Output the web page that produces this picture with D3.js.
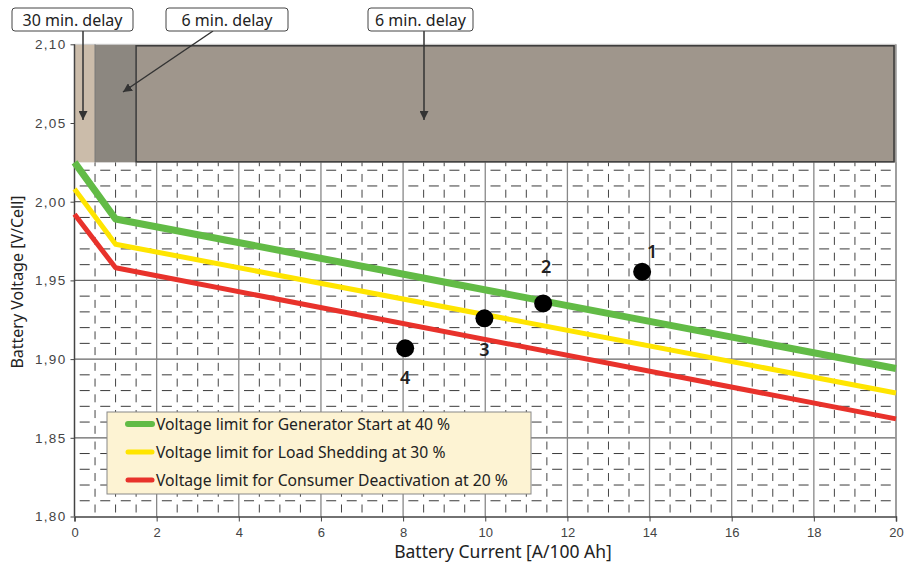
<!DOCTYPE html>
<html>
<head>
<meta charset="utf-8">
<script src="https://cdn.jsdelivr.net/npm/d3@7"></script>
<style>
  body { margin: 0; background: #fff; }
  text { font-family: "Noto Sans", sans-serif; fill: #222; }
  .tick text { font-family: "Liberation Sans", Arial, sans-serif; fill: #444; }
</style>
</head>
<body>
<div id="chart"></div>
<script>
// limit curves: battery current vs voltage per cell
const currents = [0, 1, 20];
const genStart = [2.025, 1.989, 1.894];
const loadShed = [2.008, 1.973, 1.8785];
const consumerOff = [1.992, 1.958, 1.862];

const seriesNames = [
  'Voltage limit for Generator Start at 40 %',
  'Voltage limit for Load Shedding at 30 %',
  'Voltage limit for Consumer Deactivation at 20 %'
];

// measured operating points
const pointIds = ['1', '2', '3', '4'];
const pointX = [13.82, 11.41, 9.98, 8.05];
const pointY = [1.9555, 1.9354, 1.9259, 1.9069];

// delay zones along the current axis
const zoneStart = [0, 0.5, 1.5];
const zoneEnd = [0.5, 1.5, 20];
const zoneLabels = ['30 min. delay', '6 min. delay', '6 min. delay'];

const xTicks = [0, 2, 4, 6, 8, 10, 12, 14, 16, 18, 20];
const yTicks = [1.80, 1.85, 1.90, 1.95, 2.00, 2.05, 2.10];

const width = 908, height = 564;
const svg = d3.select('#chart')
              .append('svg')
              .attr('width', width)
              .attr('height', height);

const x = d3.scaleLinear().domain([0, 20]).range([74.5, 896]);
const y = d3.scaleLinear().domain([1.80, 2.10]).range([516.5, 44.3]);
const comma = v => d3.format('.2f')(v).replace('.', ',');

// dashed minor grid (only below the delay zones)
const gridTop = y(2.025);
const g = svg.append('g');
g.selectAll('.hdash')
 .data(d3.range(1.81, 2.021, 0.01).filter(v => Math.abs(v * 100 % 5) > 0.01 && Math.abs(v * 100 % 5 - 5) > 0.01))
 .enter().append('line')
 .attr('x1', x(0)).attr('x2', x(20))
 .attr('y1', d => y(d)).attr('y2', d => y(d))
 .attr('stroke', '#3a3a3a').attr('stroke-width', 1)
 .attr('stroke-dasharray', '10,10.54').attr('stroke-dashoffset', -5.2);
g.selectAll('.vdash')
 .data(d3.range(0.5, 20, 0.5).filter(v => v % 2 !== 0))
 .enter().append('line')
 .attr('x1', d => x(d)).attr('x2', d => x(d))
 .attr('y1', y(1.80)).attr('y2', gridTop)
 .attr('stroke', '#444').attr('stroke-width', 1)
 .attr('stroke-dasharray', '8,7.74').attr('stroke-dashoffset', -4);

// solid major grid
g.selectAll('.hmaj')
 .data([1.85, 1.90, 1.95, 2.00])
 .enter().append('line')
 .attr('x1', x(0)).attr('x2', x(20))
 .attr('y1', d => y(d)).attr('y2', d => y(d))
 .attr('stroke', '#666').attr('stroke-width', 1.3);
g.selectAll('.vmaj')
 .data(xTicks.slice(1))
 .enter().append('line')
 .attr('x1', d => x(d)).attr('x2', d => x(d))
 .attr('y1', y(1.80)).attr('y2', gridTop)
 .attr('stroke', '#888').attr('stroke-width', 1.3);

// delay zones
const zoneFill = ['#cbbcaa', '#8c8780', '#9f968c'];
svg.selectAll('.zone')
   .data(zoneStart)
   .enter().append('rect')
   .attr('x', (d, i) => x(d))
   .attr('width', (d, i) => x(zoneEnd[i]) - x(d))
   .attr('y', y(2.10))
   .attr('height', gridTop - y(2.10))
   .attr('fill', (d, i) => zoneFill[i]);
svg.append('rect')
   .attr('x', x(1.5)).attr('y', y(2.10) + 1.5)
   .attr('width', x(20) - x(1.5) - 2).attr('height', gridTop - y(2.10) - 2)
   .attr('fill', 'none').attr('stroke', '#3a3a3a').attr('stroke-width', 1.5);
svg.append('line')
   .attr('x1', x(0)).attr('x2', x(20))
   .attr('y1', y(2.10)).attr('y2', y(2.10))
   .attr('stroke', '#ccc').attr('stroke-width', 1);
svg.append('line')
   .attr('x1', x(0.5)).attr('x2', x(0.5))
   .attr('y1', y(2.10)).attr('y2', gridTop)
   .attr('stroke', '#777').attr('stroke-width', 1);

// right border
svg.append('line')
   .attr('x1', x(20)).attr('x2', x(20))
   .attr('y1', y(2.10)).attr('y2', y(1.80))
   .attr('stroke', '#999').attr('stroke-width', 1.5);

// axes
const xAxis = d3.axisBottom(x).tickValues(xTicks).tickSize(5).tickPadding(6).tickFormat(d3.format('d'));
const yAxis = d3.axisLeft(y).tickValues(yTicks).tickSize(4).tickPadding(4).tickFormat(comma);
const xg = svg.append('g').attr('transform', `translate(0, ${y(1.80)})`).call(xAxis).attr('font-size', 13);
const yg = svg.append('g').attr('transform', `translate(${x(0)}, 0)`).call(yAxis).attr('font-size', 13.5);
[xg, yg].forEach(a => {
  a.select('.domain').attr('stroke', '#444').attr('stroke-width', 1.5);
  a.selectAll('.tick line').attr('stroke', '#444');
});
yg.selectAll('.tick text').attr('letter-spacing', 1.3);
yg.select('.domain').attr('d', `M0,${y(1.80)}V${y(2.10)}`);

svg.append('text')
   .attr('x', 503).attr('y', 558)
   .attr('text-anchor', 'middle')
   .style('font-size', '17.5px')
   .text('Battery Current [A/100 Ah]');
svg.append('text')
   .attr('transform', `translate(23, 282) rotate(-90)`)
   .attr('text-anchor', 'middle')
   .style('font-size', '16px')
   .text('Battery Voltage [V/Cell]');

// limit lines
const colors = ['#62bb46', '#ffe500', '#e8322b'];
const widths = [7, 5, 5];
const line = d3.line().x(d => x(d[0])).y(d => y(d[1]));
[genStart, loadShed, consumerOff].forEach((vals, i) => {
  svg.append('path')
     .datum(currents.map((c, j) => [c, vals[j]]))
     .attr('d', line)
     .attr('fill', 'none')
     .attr('stroke', colors[i])
     .attr('stroke-width', widths[i])
     .attr('stroke-linejoin', 'round');
});

// operating points
const labelDx = [10, 3, 0, 0];
const labelDy = [-21, -37, 31, 29];
svg.selectAll('.pt')
   .data(pointIds)
   .enter().append('circle')
   .attr('cx', (d, i) => x(pointX[i]))
   .attr('cy', (d, i) => y(pointY[i]))
   .attr('r', 9)
   .attr('fill', '#000');
svg.selectAll('.ptlabel')
   .data(pointIds)
   .enter().append('text')
   .attr('x', (d, i) => x(pointX[i]) + labelDx[i])
   .attr('y', (d, i) => y(pointY[i]) + labelDy[i])
   .attr('text-anchor', 'middle')
   .attr('dominant-baseline', 'central')
   .style('font-size', '18px')
   .style('font-weight', '600')
   .text(d => d);

// legend
const leg = svg.append('g');
leg.append('rect')
   .attr('x', 107).attr('y', 412).attr('width', 424).attr('height', 82)
   .attr('fill', '#fdf3d3').attr('stroke', '#888').attr('stroke-width', 1);
seriesNames.forEach((name, i) => {
  const ly = 424 + i * 28;
  leg.append('line')
     .attr('x1', 128).attr('x2', 152).attr('y1', ly).attr('y2', ly)
     .attr('stroke', colors[i]).attr('stroke-width', i === 0 ? 6 : 5)
     .attr('stroke-linecap', 'round');
  leg.append('text')
     .attr('x', 156).attr('y', ly)
     .attr('dominant-baseline', 'central')
     .style('font-size', '15.7px')
     .text(name);
});

// delay annotations
const boxX = [12, 166, 368];
const boxW = [121, 122, 105];
const arrowFrom = [[83, 31], [213, 31], [424, 31]];
const arrowTo = [[83, 120], [123, 92], [424, 120]];
svg.append('defs').append('marker')
   .attr('id', 'arr').attr('viewBox', '0 0 10 10')
   .attr('refX', 10).attr('refY', 5)
   .attr('markerWidth', 9).attr('markerHeight', 9)
   .attr('markerUnits', 'userSpaceOnUse')
   .attr('orient', 'auto')
   .append('path').attr('d', 'M0,0L10,5L0,10Z').attr('fill', '#333');
zoneLabels.forEach((lab, i) => {
  svg.append('line')
     .attr('x1', arrowFrom[i][0]).attr('y1', arrowFrom[i][1])
     .attr('x2', arrowTo[i][0]).attr('y2', arrowTo[i][1])
     .attr('stroke', '#333').attr('stroke-width', 1.5)
     .attr('marker-end', 'url(#arr)');
  svg.append('rect')
     .attr('x', boxX[i]).attr('y', 8).attr('width', boxW[i]).attr('height', 23)
     .attr('rx', 3)
     .attr('fill', '#fff').attr('stroke', '#444').attr('stroke-width', 1);
  svg.append('text')
     .attr('x', boxX[i] + boxW[i] / 2).attr('y', 19.5)
     .attr('text-anchor', 'middle')
     .attr('dominant-baseline', 'central')
     .style('font-size', '16px')
     .text(lab);
});
</script>
</body>
</html>
